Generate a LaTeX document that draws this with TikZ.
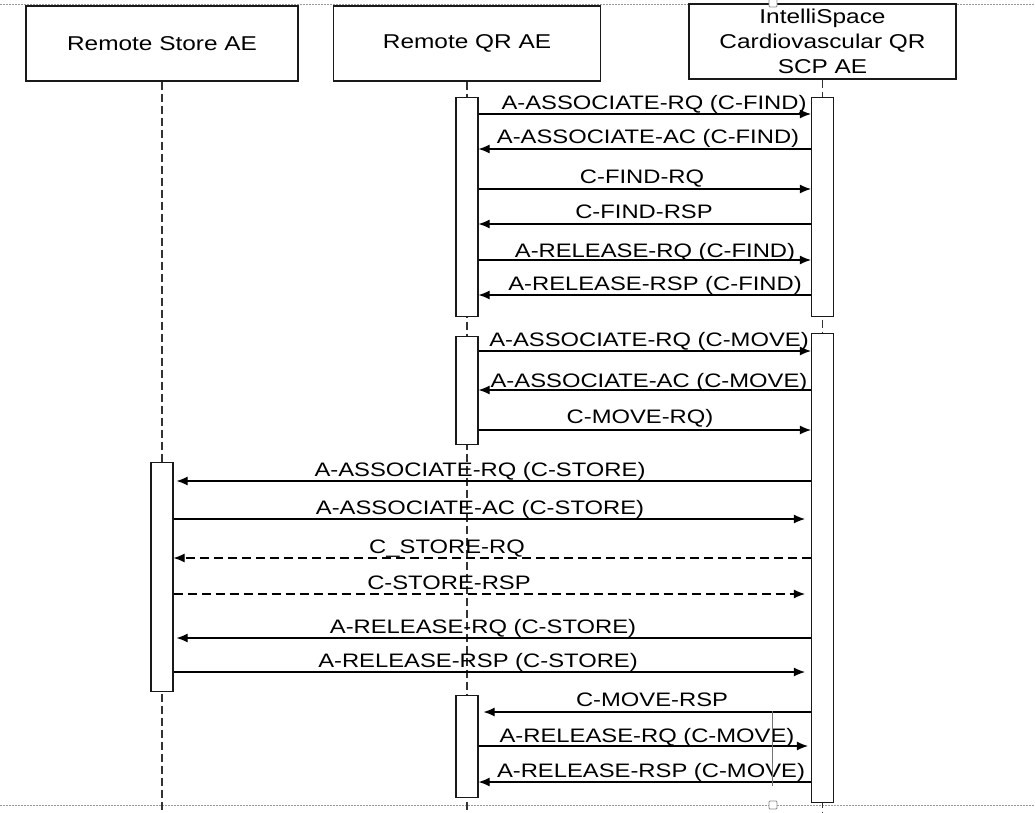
\documentclass[tikz,border=0pt]{standalone}
\usepackage{fontspec}
\setmainfont[FakeStretch=1.22]{Liberation Sans}
\usetikzlibrary{arrows.meta,calc}
\tikzset{
  actor/.style={draw=black!90, line width=1.3pt, minimum height=75pt, inner sep=0pt,
    align=center, font=\fontsize{20}{25}\selectfont, text=black, fill=white},
  lifeline/.style={draw=black!80, line width=1.2pt, dash pattern=on 8pt off 4pt},
  actbar/.style={draw=black!90, line width=1.2pt, fill=white, minimum width=22pt,
    inner sep=0pt, anchor=north},
  msg/.style={draw=black, line width=1.1pt, -{Latex[length=11pt,width=9pt]}},
  dmsg/.style={msg, dash pattern=on 9pt off 5pt},
  lbl/.style={font=\fontsize{19.5}{23}\selectfont, inner sep=0pt, anchor=base, text=black},
  pageborder/.style={draw=black!40, line width=0.8pt, dash pattern=on 1.5pt off 1.5pt},
  handle/.style={draw=black!45, line width=0.8pt, fill=white, rounded corners=1pt,
    minimum size=8pt, inner sep=0pt},
}
\newcommand\mymsg[7]{%
  \draw[#1] (#2 |- 0,#4) -- (#3 |- 0,#4);
  \node[lbl] (lab#4) at (#5,#4-#7) {#6};}
\begin{document}
\begin{tikzpicture}[x=1pt,y=-1pt]
\useasboundingbox[fill=white] (0,0) rectangle (1035,812);
% page borders
\draw[pageborder] (0,4) -- (1035,4);
\draw[pageborder] (0,805) -- (1035,805);
% actors
\node[actor, minimum width=272pt] (store) at (162,43.5) {Remote Store AE};
\node[actor, minimum width=267pt] (qr) at (467,43.5) {Remote QR AE};
\node[actor, minimum width=267pt] (scp) at (822.5,41.5) {IntelliSpace\\Cardiovascular QR\\SCP AE};
% lifelines
\draw[lifeline] (store.south) -- (store.south |- 0,812);
\draw[lifeline] (qr.south) -- (qr.south |- 0,812);
\draw[lifeline] (scp.south) -- (scp.south |- 0,812);
% activation bars
\node[actbar, minimum height=219pt] (qrA) at (467,97) {};
\node[actbar, minimum height=219pt] (scpB) at (822.5,97) {};
\node[actbar, minimum height=108pt] (qrC) at (467,336) {};
\node[actbar, minimum height=469pt] (scpD) at (822.5,333) {};
\node[actbar, minimum height=229pt] (storeE) at (162,462) {};
\node[actbar, minimum height=102pt] (qrF) at (467,695) {};
% C-FIND association
\mymsg{msg}{qrA.east}{scpB.west}{114}{654}{A-ASSOCIATE-RQ (C-FIND)}{5}
\mymsg{msg}{scpB.west}{qrA.east}{149}{648}{A-ASSOCIATE-AC (C-FIND)}{6}
\mymsg{msg}{qrA.east}{scpB.west}{189}{642}{C-FIND-RQ}{6}
\mymsg{msg}{scpB.west}{qrA.east}{224}{644}{C-FIND-RSP}{6}
\mymsg{msg}{qrA.east}{scpB.west}{260}{655}{A-RELEASE-RQ (C-FIND)}{3}
\mymsg{msg}{scpB.west}{qrA.east}{295}{655}{A-RELEASE-RSP (C-FIND)}{5}
% C-MOVE association
\mymsg{msg}{qrC.east}{scpD.west}{351}{649}{A-ASSOCIATE-RQ (C-MOVE)}{5}
\mymsg{msg}{scpD.west}{qrC.east}{390}{649}{A-ASSOCIATE-AC (C-MOVE)}{3}
\mymsg{msg}{qrC.east}{scpD.west}{430}{640}{C-MOVE-RQ)}{7}
% C-STORE sub-operation
\mymsg{msg,shorten >=3pt}{scpD.west}{storeE.east}{481}{480}{A-ASSOCIATE-RQ (C-STORE)}{5}
\mymsg{msg,shorten >=6pt}{storeE.east}{scpD.west}{519}{480}{A-ASSOCIATE-AC (C-STORE)}{5}
\mymsg{dmsg}{scpD.west}{storeE.east}{558}{447}{C\_STORE-RQ}{5}
\mymsg{dmsg,shorten >=6pt}{storeE.east}{scpD.west}{594}{449}{C-STORE-RSP}{5}
\mymsg{msg,shorten >=3pt}{scpD.west}{storeE.east}{638}{483}{A-RELEASE-RQ (C-STORE)}{5}
\mymsg{msg,shorten >=6pt}{storeE.east}{scpD.west}{672}{478}{A-RELEASE-RSP (C-STORE)}{5}
% C-MOVE response and release
\mymsg{msg,shorten >=5pt}{scpD.west}{qrF.east}{712}{652}{C-MOVE-RSP}{6}
\mymsg{msg,shorten >=3pt}{qrF.east}{scpD.west}{746}{647}{A-RELEASE-RQ (C-MOVE)}{4}
\mymsg{msg}{scpD.west}{qrF.east}{782}{651}{A-RELEASE-RSP (C-MOVE)}{5}
% editor artefacts
\draw[draw=black!55, line width=0.7pt] (772,711) -- (772,786);
\node[handle] (h1) at (773,3) {};
\node[handle] (h2) at (773,805) {};
\end{tikzpicture}
\end{document}
